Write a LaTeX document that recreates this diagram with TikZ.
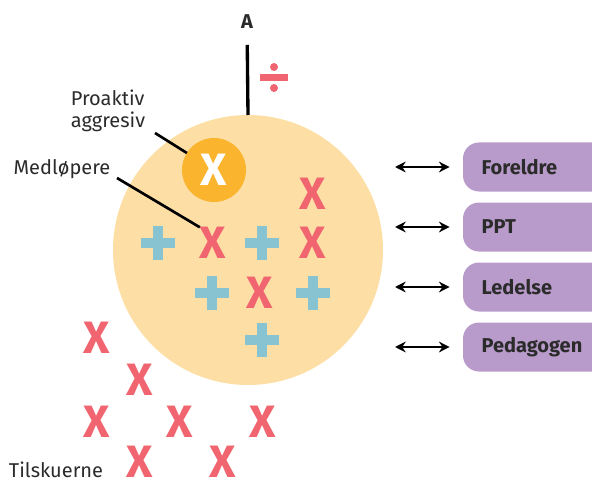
\documentclass[tikz,border=0pt]{standalone}
\usepackage{fontspec}
\setmainfont{Fira Sans}
\usetikzlibrary{arrows.meta,shapes}
\definecolor{peach}{HTML}{FDDFA6}
\definecolor{amber}{HTML}{FBB42D}
\definecolor{xred}{HTML}{F0656F}
\definecolor{pblue}{HTML}{88C3D1}
\definecolor{lilac}{HTML}{B89BCA}
\definecolor{ink}{HTML}{2B2B2B}

\begin{document}
\begin{tikzpicture}[x=0.75pt, y=-0.75pt]
	\tikzstyle{every node} = [inner sep=0pt, outer sep=0pt, text=ink]
	\tikzstyle{label}     = [font=\fontsize{15}{16.5}\selectfont, align=left]
	\tikzstyle{redcross}  = [font=\fontsize{34}{34}\selectfont\bfseries, text=xred]
	\tikzstyle{bluplus}   = [draw=pblue, cross out, rotate=45, minimum size=18pt, line width=7.5pt]
	\tikzstyle{box}       = [fill=lilac, rounded corners=12pt, minimum height=36.75pt, text width=82pt,
	                         inner xsep=14pt, align=left, anchor=west, font=\fontsize{15}{16}\selectfont\bfseries]
	\tikzstyle{link}      = [<->, >={Stealth[length=8pt, width=8pt]}, line width=1.9pt]
	\useasboundingbox (0,0) rectangle (592,481);
	\node [circle, fill=peach, minimum size=202.5pt] (group) at (248,250) {};
	\node [font=\fontsize{15}{15}\selectfont\bfseries] (A) at (247,22) {A};
	\draw [line width=2.5pt] (A) -- (group.north) [shorten <=12pt];
	\fill [xred] (260,74) rectangle (288,81);
	\fill [xred] (274,67) circle (4);
	\fill [xred] (274,88) circle (4);
	\node [circle, fill=amber, minimum size=48pt, text=white,
	       font=\fontsize{34}{34}\selectfont\bfseries] (lead) at (214,170) {X};
	\node [label] (proaktiv)  at (108,111) {Proaktiv\\aggresiv};
	\node [label] (medlopere) at (62,169) {Medløpere};
	\node [label] (tilskuere) at (56,470) {Tilskuerne};
	\node [redcross] (x1)  at (313,194) {X};
	\node [redcross] (x2)  at (213,243) {X};
	\node [redcross] (x3)  at (313,243) {X};
	\node [redcross] (x4)  at (260,293) {X};
	\node [bluplus]  (p1)  at (158,243) {};
	\node [bluplus]  (p2)  at (262,243) {};
	\node [bluplus]  (p3)  at (212,293) {};
	\node [bluplus]  (p4)  at (313,293) {};
	\node [bluplus]  (p5)  at (262,340) {};
	\node [redcross] (x5)  at (97,338) {X};
	\node [redcross] (x6)  at (140,380) {X};
	\node [redcross] (x7)  at (97,422) {X};
	\node [redcross] (x8)  at (180,422) {X};
	\node [redcross] (x9)  at (263,422) {X};
	\node [redcross] (x10) at (140,462) {X};
	\node [redcross] (x11) at (223,462) {X};
	\draw [line width=2pt] (155,133) -- (lead);
	\draw [line width=2pt] (117,178) -- (x2.north west);
	\node [box] (foreldre)  at (463,167) {Foreldre};
	\node [box] (ppt)       at (463,227) {PPT};
	\node [box] (ledelse)   at (463,287) {Ledelse};
	\node [box] (pedagogen) at (463,347) {Pedagogen};
	\coordinate (a1) at (395,167);
	\coordinate (a2) at (395,227);
	\coordinate (a3) at (395,287);
	\coordinate (a4) at (395,347);
	\draw [link] (a1) -- (foreldre)  [shorten >=10pt];
	\draw [link] (a2) -- (ppt)       [shorten >=10pt];
	\draw [link] (a3) -- (ledelse)   [shorten >=10pt];
	\draw [link] (a4) -- (pedagogen) [shorten >=10pt];
\end{tikzpicture}
\end{document}
